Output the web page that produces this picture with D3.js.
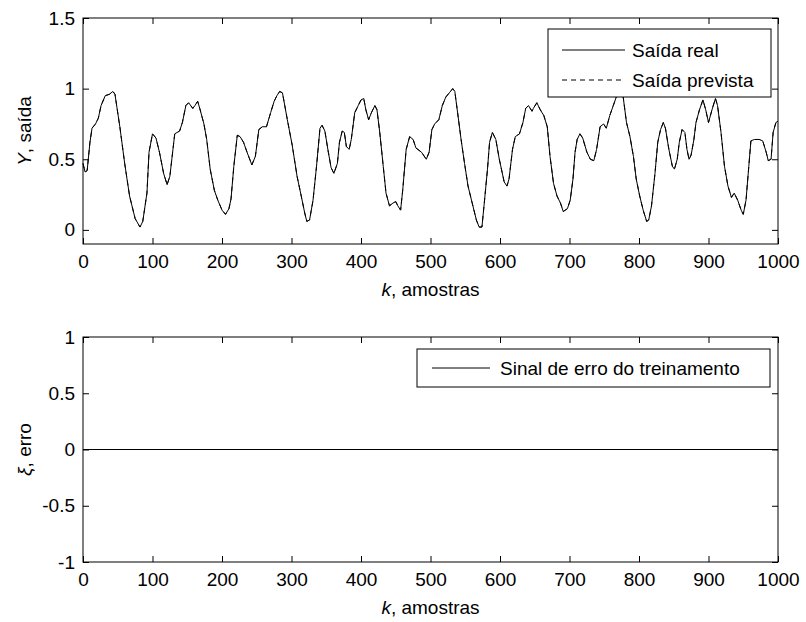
<meta charset="utf-8">
<style>
body { margin: 0; background: #fff; }
svg { font-family: "Liberation Sans", Arial, Helvetica, sans-serif; }
.tick text { font-size: 19px; fill: #000; }
.tick line { stroke: #000; }
.frame { fill: none; stroke: #000; stroke-width: 1px; }
.line { fill: none; stroke: #000; stroke-width: 1px; }
</style>
<body>
<script src="https://d3js.org/d3.v7.js"></script>
<script>
// samples k and values (real output; predicted overlaps it)
var kReal = [0,3,6,10,13,18,22,26,32,38,43,46,53,60,67,75,82,86,92,95,100,105,110,116,121,125,132,139,143,148,152,158,161,165,168,174,178,183,189,194,200,205,210,213,217,222,226,231,236,243,248,253,258,264,270,275,279,283,287,294,301,308,314,319,322,326,331,336,341,344,348,353,357,361,366,369,373,376,379,383,386,391,396,400,404,407,411,415,420,423,427,432,436,441,446,450,453,457,460,465,470,475,479,487,494,498,502,506,512,517,522,527,532,535,539,544,549,554,560,566,570,574,577,582,585,589,594,599,606,610,613,618,622,628,633,637,641,646,648,653,658,663,668,672,677,682,687,691,697,701,705,708,711,715,719,725,730,735,739,744,749,753,758,763,768,773,777,782,787,792,796,801,806,811,814,818,823,827,831,835,838,843,848,851,855,858,862,866,869,872,875,879,882,887,892,896,900,905,910,913,918,923,928,933,937,942,947,950,954,958,961,966,973,978,983,986,990,993,997,1000];
var yReal = [0.47,0.41,0.42,0.62,0.72,0.75,0.79,0.88,0.95,0.96,0.98,0.96,0.73,0.47,0.24,0.08,0.02,0.06,0.26,0.55,0.68,0.65,0.55,0.40,0.32,0.38,0.68,0.70,0.76,0.88,0.90,0.86,0.88,0.91,0.86,0.75,0.64,0.43,0.28,0.21,0.14,0.11,0.15,0.22,0.45,0.67,0.66,0.62,0.55,0.46,0.52,0.71,0.73,0.73,0.83,0.91,0.95,0.98,0.97,0.78,0.60,0.38,0.24,0.12,0.06,0.07,0.21,0.45,0.72,0.74,0.70,0.55,0.44,0.40,0.47,0.62,0.70,0.69,0.59,0.57,0.64,0.83,0.88,0.92,0.93,0.85,0.78,0.83,0.88,0.85,0.69,0.45,0.26,0.17,0.19,0.20,0.17,0.14,0.28,0.57,0.66,0.64,0.58,0.55,0.50,0.55,0.71,0.75,0.78,0.88,0.94,0.97,1.00,0.98,0.83,0.64,0.47,0.31,0.19,0.07,0.02,0.02,0.17,0.43,0.62,0.69,0.64,0.50,0.34,0.31,0.36,0.57,0.66,0.68,0.76,0.86,0.88,0.84,0.86,0.90,0.85,0.81,0.73,0.52,0.33,0.24,0.19,0.13,0.15,0.21,0.36,0.55,0.64,0.68,0.65,0.55,0.50,0.49,0.57,0.73,0.75,0.72,0.81,0.88,0.95,1.00,0.95,0.76,0.66,0.52,0.36,0.24,0.14,0.06,0.07,0.17,0.40,0.62,0.71,0.76,0.72,0.57,0.45,0.43,0.50,0.62,0.71,0.69,0.57,0.50,0.53,0.64,0.76,0.85,0.92,0.85,0.76,0.85,0.93,0.88,0.69,0.45,0.31,0.23,0.26,0.21,0.14,0.11,0.21,0.45,0.63,0.64,0.64,0.63,0.55,0.49,0.50,0.69,0.76,0.77];
var yPrev = yReal.slice();              // predicted output, same as real at this scale
var kErr = [0, 1000];
var yErr = [0, 0];                      // training error signal

var xTicks = [0,100,200,300,400,500,600,700,800,900,1000];
var yTicksTop = [0,0.5,1,1.5];
var yTicksBot = [-1,-0.5,0,0.5,1];

var W = 806, H = 622;
var left = 83, right = 778;

var svg = d3.select("body").append("svg")
    .attr("width", W).attr("height", H);

var x = d3.scaleLinear().domain([0, 1000]).range([left, right]);

function panel(top, bottom, yDomain, yTicks, ylabelMain, ylabelRest) {
  var y = d3.scaleLinear().domain(yDomain).range([bottom, top]);
  var g = svg.append("g");

  g.append("g")
      .attr("transform", "translate(0," + bottom + ")")
      .call(d3.axisBottom(x).tickValues(xTicks).tickSizeInner(-6).tickSizeOuter(0).tickPadding(11)
        .tickFormat(d3.format("d")));
  g.append("g")
      .attr("transform", "translate(0," + top + ")")
      .call(d3.axisTop(x).tickValues(xTicks).tickSizeInner(-6).tickSizeOuter(0).tickFormat(""));
  g.append("g")
      .attr("transform", "translate(" + left + ",0)")
      .call(d3.axisLeft(y).tickValues(yTicks).tickSizeInner(-6).tickSizeOuter(0).tickPadding(8)
        .tickFormat(function(d) { return String(d); }));
  g.append("g")
      .attr("transform", "translate(" + right + ",0)")
      .call(d3.axisRight(y).tickValues(yTicks).tickSizeInner(-6).tickSizeOuter(0).tickFormat(""));
  g.selectAll(".domain").remove();

  g.append("rect").attr("class", "frame")
      .attr("x", left).attr("y", top)
      .attr("width", right - left).attr("height", bottom - top);

  var t = g.append("text")
      .attr("x", (left + right) / 2).attr("y", bottom + 52)
      .attr("text-anchor", "middle").style("font-size", "19px");
  t.append("tspan").style("font-style", "italic").text("k");
  t.append("tspan").text(", amostras");

  var yl = g.append("text")
      .attr("transform", "translate(31," + ((top + bottom) / 2) + ") rotate(-90)")
      .attr("text-anchor", "middle").style("font-size", "19px");
  yl.append("tspan").style("font-style", "italic").text(ylabelMain);
  yl.append("tspan").text(ylabelRest);

  return {g: g, y: y};
}

// top panel
var p1 = panel(18, 244, [-0.1, 1.5], yTicksTop, "Y", ", saída");
var line1 = d3.line()
    .x(function(d, i) { return x(kReal[i]); })
    .y(function(d) { return p1.y(d); });
p1.g.append("path").attr("class", "line").attr("d", line1(yReal));
p1.g.append("path").attr("class", "line").style("stroke-dasharray", "5,4").attr("d", line1(yPrev));

// legend top
var lg1 = p1.g.append("g");
lg1.append("rect").attr("x", 548).attr("y", 29).attr("width", 223).attr("height", 68)
    .attr("fill", "#fff").attr("stroke", "#000");
lg1.append("line").attr("x1", 562).attr("x2", 625).attr("y1", 50).attr("y2", 50).attr("stroke", "#000");
lg1.append("line").attr("x1", 562).attr("x2", 625).attr("y1", 80).attr("y2", 80)
    .attr("stroke", "#000").style("stroke-dasharray", "5,4");
lg1.append("text").attr("x", 632).attr("y", 57).style("font-size", "19px").text("Saída real");
lg1.append("text").attr("x", 632).attr("y", 87).style("font-size", "19px").text("Saída prevista");

// bottom panel
var p2 = panel(337, 562, [-1, 1], yTicksBot, "ξ", ", erro");
var line2 = d3.line()
    .x(function(d, i) { return x(kErr[i]); })
    .y(function(d) { return p2.y(d); });
p2.g.append("path").attr("class", "line").attr("d", line2(yErr));

var lg2 = p2.g.append("g");
lg2.append("rect").attr("x", 417).attr("y", 349).attr("width", 353).attr("height", 38)
    .attr("fill", "#fff").attr("stroke", "#000");
lg2.append("line").attr("x1", 432).attr("x2", 490).attr("y1", 368).attr("y2", 368).attr("stroke", "#000");
lg2.append("text").attr("x", 500).attr("y", 375).style("font-size", "19px").text("Sinal de erro do treinamento");
</script>
</body>
